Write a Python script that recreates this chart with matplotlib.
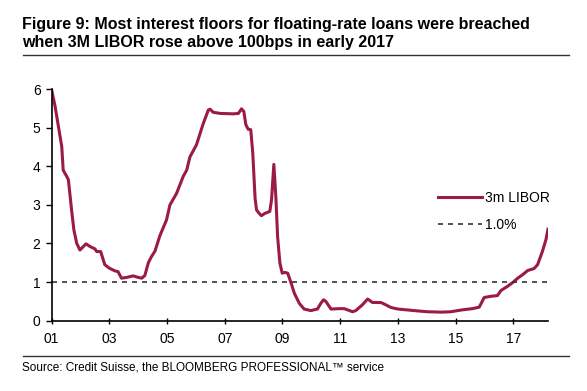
import matplotlib
matplotlib.use("Agg")
import matplotlib.pyplot as plt
from matplotlib.lines import Line2D

plt.rcParams["font.family"] = ["Liberation Sans", "DejaVu Sans"]

# 3m LIBOR (decimal year, %)
years = [
    2001.0, 2001.12, 2001.35, 2001.4, 2001.52, 2001.58, 2001.69, 2001.77, 2001.87, 2001.98,
    2002.19, 2002.33, 2002.5, 2002.56, 2002.7, 2002.84, 2003.0, 2003.19, 2003.3, 2003.42,
    2003.6, 2003.83, 2003.95, 2004.12, 2004.23, 2004.35, 2004.46, 2004.58, 2004.75, 2004.98,
    2005.1, 2005.33, 2005.56, 2005.68, 2005.79, 2006.02, 2006.25, 2006.43, 2006.49, 2006.6,
    2006.85, 2007.3, 2007.47, 2007.58, 2007.66, 2007.73, 2007.81, 2007.9, 2007.97, 2008.05,
    2008.1, 2008.19, 2008.27, 2008.39, 2008.56, 2008.62, 2008.7, 2008.77, 2008.83, 2008.91,
    2008.99, 2009.08, 2009.18, 2009.3, 2009.41, 2009.58, 2009.75, 2009.98, 2010.21, 2010.33,
    2010.42, 2010.5, 2010.68, 2010.97, 2011.14, 2011.43, 2011.54, 2011.77, 2011.95, 2012.12,
    2012.41, 2012.58, 2012.76, 2013.0, 2013.56, 2014.02, 2014.49, 2014.83, 2015.24, 2015.58,
    2015.82, 2015.99, 2016.22, 2016.45, 2016.57, 2016.8, 2017.0, 2017.15, 2017.32, 2017.5,
    2017.72, 2017.84, 2018.01, 2018.13, 2018.2,
]
libor = [
    5.98, 5.55, 4.51, 3.9, 3.74, 3.65, 2.87, 2.35, 2.0, 1.83,
    1.99, 1.92, 1.86, 1.79, 1.79, 1.45, 1.36, 1.29, 1.27, 1.1,
    1.12, 1.16, 1.13, 1.1, 1.17, 1.5, 1.66, 1.8, 2.2, 2.61,
    3.0, 3.3, 3.74, 3.9, 4.24, 4.56, 5.1, 5.46, 5.48, 5.4,
    5.37, 5.36, 5.37, 5.49, 5.42, 5.08, 4.96, 4.95, 4.34, 3.17,
    2.87, 2.78, 2.72, 2.78, 2.83, 3.13, 4.05, 3.2, 2.18, 1.49,
    1.23, 1.25, 1.23, 0.97, 0.71, 0.45, 0.30, 0.26, 0.30, 0.45,
    0.54, 0.5, 0.30, 0.31, 0.31, 0.23, 0.26, 0.41, 0.56, 0.47,
    0.47, 0.41, 0.34, 0.30, 0.26, 0.23, 0.22, 0.23, 0.28, 0.31,
    0.35, 0.6, 0.63, 0.65, 0.78, 0.89, 1.0, 1.1, 1.19, 1.3,
    1.35, 1.45, 1.8, 2.1, 2.37,
]
floor_level = 1.0
tick_years = [2001, 2003, 2005, 2007, 2009, 2011, 2013, 2015, 2017]
tick_labels = ["01", "03", "05", "07", "09", "11", "13", "15", "17"]

title = ("Figure 9: Most interest floors for floating-rate loans were breached\n"
         "when 3M LIBOR rose above 100bps in early 2017")
source = "Source: Credit Suisse, the BLOOMBERG PROFESSIONAL\u2122 service"

maroon = "#9b1b43"
grey = "#333333"

fig = plt.figure(figsize=(5.87, 3.91), dpi=100)
ax = fig.add_axes([0.088, 0.18, 0.8455, 0.592])

ax.plot(years, libor, color=maroon, lw=2.2, label="3m LIBOR", solid_joinstyle="round")
ax.axhline(floor_level, color=grey, lw=1.2, ls=(0, (3, 3)), label="1.0%")

ax.set_xlim(2001, 2018.2)
ax.set_ylim(0, 6)
ax.set_xticks(tick_years, tick_labels)
ax.set_yticks(range(0, 7))
ax.spines[["top", "right"]].set_visible(False)
ax.spines[["left", "bottom"]].set_linewidth(1.2)
ax.tick_params(axis="x", direction="inout", length=5, width=1, labelsize=10, pad=6)
ax.tick_params(axis="y", direction="out", length=4, width=1, labelsize=10, pad=4)

ax.legend(loc="upper left", bbox_to_anchor=(438 / 587, 1 - 191 / 391),
          bbox_transform=fig.transFigure, frameon=False, fontsize=10,
          handlelength=3.2, handletextpad=0.15, labelspacing=0.95, borderpad=0,
          borderaxespad=0)

fig.text(22.5 / 587, 1 - 17 / 391, title, fontsize=11.5, fontweight="bold",
         va="top", ha="left", linespacing=1.25)
fig.add_artist(Line2D([22.5 / 587, 569 / 587], [1 - 54.5 / 391] * 2,
                      transform=fig.transFigure, color=grey, lw=1))
fig.add_artist(Line2D([22.5 / 587, 569 / 587], [1 - 355.5 / 391] * 2,
                      transform=fig.transFigure, color=grey, lw=1))
fig.text(22.5 / 587, 1 - 370 / 391, source, fontsize=8.5, va="baseline", ha="left")

fig.savefig("out.png", dpi=100)
